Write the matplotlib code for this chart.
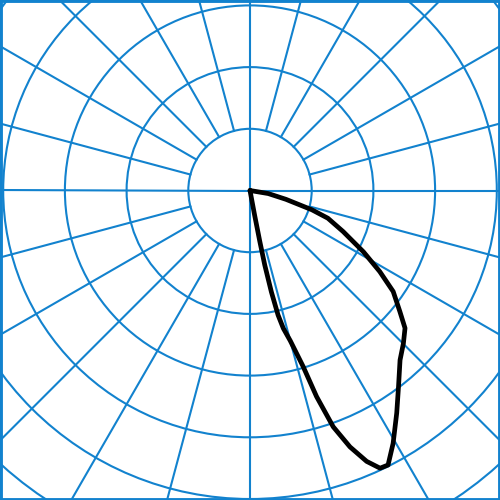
import numpy as np
import matplotlib
matplotlib.use("Agg")
import matplotlib.pyplot as plt
from matplotlib.patches import Circle

# Luminous intensity distribution (gamma from nadir, degrees) and intensity (cd)
gamma = [10.0, 10.6, 10.9, 11.2, 11.9, 12.7, 13.6, 15.0, 16.8, 17.9, 19.4,
         21.3, 23.3, 25.1, 26.7, 29.5, 33.4, 37.1, 41.5, 45.1, 48.4, 51.1,
         54.8, 58.0, 61.6, 66.2, 70.4, 72.7, 76.2, 80.5, 90.0]
intensity = [0, 40, 84, 123, 168, 207, 230, 252, 298, 351, 406,
             446, 478, 497, 498, 471, 432, 399, 367, 351, 336, 312,
             284, 248, 209, 165, 134, 105, 60, 30, 0]

ring_values = [100, 200, 300, 400, 500, 600, 700]
ring_step = 100
spoke_step = 15

grid_color = "#1282ce"

fig = plt.figure(figsize=(5, 5), dpi=100)
ax = fig.add_axes([0, 0, 1, 1])

# circles
for r in ring_values:
    ax.add_patch(Circle((0, 0), r / ring_step, fill=False,
                        edgecolor=grid_color, lw=1.5, zorder=1))

# spokes (start at first ring, main axes go through centre)
for ang in range(0, 360, spoke_step):
    a = np.deg2rad(ang)
    r0 = 0.0 if ang % 90 == 0 else ring_values[0] / ring_step
    r1 = 9.0
    ax.plot([r0 * np.cos(a), r1 * np.cos(a)], [r0 * np.sin(a), r1 * np.sin(a)],
            color=grid_color, lw=1.5, zorder=1)

# intensity curve
g = np.deg2rad(np.array(gamma))
rr = np.array(intensity) / ring_step
ax.plot(rr * np.sin(g), -rr * np.cos(g), color="black", lw=3.4,
        solid_joinstyle="round", solid_capstyle="round", zorder=3)

ax.set_xlim(-250 / 61.7, 250 / 61.7)
ax.set_ylim(-309.5 / 61.7, 190.5 / 61.7)
ax.set_xticks([])
ax.set_yticks([])
for sp in ax.spines.values():
    sp.set_color(grid_color)
    sp.set_linewidth(3.5)

fig.savefig("out.png", dpi=100)
